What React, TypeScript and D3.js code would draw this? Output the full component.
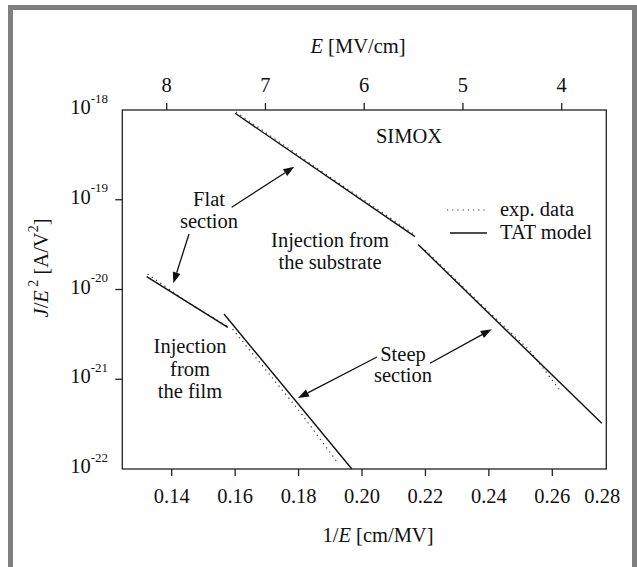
import React from "react";
import * as d3 from "d3";

// ---- data ----
const xTicks = [0.14, 0.16, 0.18, 0.2, 0.22, 0.24, 0.26, 0.28];
const eTicks = [8, 7, 6, 5, 4];
const yTickExps = [-18, -19, -20, -21, -22];

// TAT model (solid) segments: 1/E [cm/MV], J/E^2 [A/V^2]
const filmFlatModelX = [0.1321, 0.1577];
const filmFlatModelY = [1.39e-20, 3.79e-21];
const filmSteepModelX = [0.1565, 0.1968];
const filmSteepModelY = [5.33e-21, 1.0e-22];
const subFlatModelX = [0.16, 0.2167];
const subFlatModelY = [9.19e-19, 3.88e-20];
const subSteepModelX = [0.2177, 0.2756];
const subSteepModelY = [3.17e-20, 3.23e-22];

// exp. data (dotted)
const filmFlatExpX = [0.1324, 0.145, 0.1574];
const filmFlatExpY = [1.49e-20, 7.2e-21, 3.92e-21];
const filmSteepExpX = [0.1592, 0.17, 0.1805, 0.1925];
const filmSteepExpY = [3.61e-21, 1.23e-21, 4.31e-22, 1.15e-22];
const subFlatExpX = [0.1603, 0.1868, 0.2161];
const subFlatExpY = [9.5e-19, 2.12e-19, 4.21e-20];
const subSteepExpX = [0.2199, 0.2404, 0.253, 0.2628];
const subSteepExpY = [2.75e-20, 5.47e-21, 2.07e-21, 7.2e-22];

const modelSeries = [
  [filmFlatModelX, filmFlatModelY],
  [filmSteepModelX, filmSteepModelY],
  [subFlatModelX, subFlatModelY],
  [subSteepModelX, subSteepModelY],
];
const expSeries = [
  [filmFlatExpX, filmFlatExpY],
  [filmSteepExpX, filmSteepExpY],
  [subFlatExpX, subFlatExpY],
  [subSteepExpX, subSteepExpY],
];

const W = 637;
const H = 567;
const L = 122.3, R = 606.3, T = 110, B = 469;
const FONT = "'Liberation Serif', 'Times New Roman', Times, serif";

export default function App() {
  const x = d3.scaleLinear().domain([0.14, 0.26]).range([171.7, 552.3]);
  const xTop = d3.scaleLinear().domain([8, 4]).range([166.7, 561.7]);
  const y = d3.scaleLog().domain([1e-22, 1e-18]).range([B, T]);
  const line = d3
    .line<[number, number]>()
    .x((d) => x(d[0]))
    .y((d) => y(d[1]));
  const toPts = (xs: number[], ys: number[]) =>
    xs.map((v, i) => [v, ys[i]] as [number, number]);

  const arrow = (x1: number, y1: number, x2: number, y2: number, key: string) => {
    const a = Math.atan2(y2 - y1, x2 - x1);
    const len = 11, wid = 4;
    const bx = x2 - len * Math.cos(a), by = y2 - len * Math.sin(a);
    const p1 = [bx + wid * Math.sin(a), by - wid * Math.cos(a)];
    const p2 = [bx - wid * Math.sin(a), by + wid * Math.cos(a)];
    return (
      <g key={key}>
        <line x1={x1} y1={y1} x2={bx} y2={by} stroke="#111" strokeWidth={1.3} />
        <polygon points={`${x2},${y2} ${p1[0]},${p1[1]} ${p2[0]},${p2[1]}`} fill="#111" />
      </g>
    );
  };

  return (
    <svg
      width={W}
      height={H}
      style={{ position: "absolute", left: 0, top: 0, background: "#fff", fontFamily: FONT }}
    >
      {/* outer gray frame */}
      <rect x={8} y={5} width={629} height={5} fill="#7f7f7f" />
      <rect x={8} y={5} width={5} height={562} fill="#7f7f7f" />
      <rect x={632} y={5} width={5} height={562} fill="#7f7f7f" />

      {/* plot box */}
      <rect x={L} y={T} width={R - L} height={B - T} fill="none" stroke="#222" strokeWidth={1.3} />

      {/* bottom ticks */}
      {xTicks.map((t) => {
        const px = x(t);
        const inside = px <= R + 0.5;
        return (
          <g key={"xt" + t}>
            {inside && <line x1={px} x2={px} y1={B} y2={B + 7} stroke="#222" strokeWidth={1.3} />}
            <text x={Math.min(px, R - 4)} y={503} fontSize={20.5} textAnchor="middle" fill="#111">
              {t.toFixed(2)}
            </text>
          </g>
        );
      })}

      {/* top ticks */}
      {eTicks.map((t) => (
        <g key={"et" + t}>
          <line x1={xTop(t)} x2={xTop(t)} y1={T} y2={T - 7} stroke="#222" strokeWidth={1.3} />
          <text x={xTop(t)} y={92} fontSize={20.5} textAnchor="middle" fill="#111">
            {t}
          </text>
        </g>
      ))}

      {/* left ticks */}
      {yTickExps.map((e) => {
        const py = y(Math.pow(10, e));
        return (
          <g key={"yt" + e}>
            {e !== -18 && e !== -22 && (
              <line x1={L - 7} x2={L} y1={py} y2={py} stroke="#222" strokeWidth={1.3} />
            )}
            <text x={108} y={py + 4} fontSize={20.5} textAnchor="end" fill="#111">
              10
              <tspan dy={-11.5} fontSize={13}>
                {"-" + Math.abs(e)}
              </tspan>
            </text>
          </g>
        );
      })}

      {/* axis titles */}
      <text x={358} y={53} fontSize={20.5} textAnchor="middle" fill="#111">
        <tspan fontStyle="italic">E</tspan> [MV/cm]
      </text>
      <text x={378} y={542} fontSize={20.5} textAnchor="middle" fill="#111">
        1/<tspan fontStyle="italic">E</tspan> [cm/MV]
      </text>
      <text transform="translate(48,268) rotate(-90)" fontSize={20.5} textAnchor="middle" fill="#111">
        <tspan fontStyle="italic">J</tspan>/<tspan fontStyle="italic">E</tspan>
        <tspan dy={-10} fontSize={14}> 2</tspan>
        <tspan dy={10}> [A/V</tspan>
        <tspan dy={-10} fontSize={14}>2</tspan>
        <tspan dy={10}>]</tspan>
      </text>

      {/* data */}
      {expSeries.map(([xs, ys], i) => (
        <path
          key={"exp" + i}
          d={line(toPts(xs, ys)) || ""}
          fill="none"
          stroke="#333"
          strokeWidth={1.2}
          strokeDasharray="1.2,4"
        />
      ))}
      {modelSeries.map(([xs, ys], i) => (
        <path key={"mod" + i} d={line(toPts(xs, ys)) || ""} fill="none" stroke="#111" strokeWidth={1.4} />
      ))}

      {/* legend */}
      <line x1={447} x2={487} y1={210} y2={210} stroke="#333" strokeWidth={1.2} strokeDasharray="1.2,4" />
      <text x={500} y={216} fontSize={20.5} fill="#111">exp. data</text>
      <line x1={450} x2={487} y1={233} y2={233} stroke="#111" strokeWidth={1.4} />
      <text x={500} y={239} fontSize={20.5} fill="#111">TAT model</text>

      {/* annotations */}
      <text x={409} y={143} fontSize={20.5} textAnchor="middle" fill="#111">SIMOX</text>
      <text x={209} y={206} fontSize={20.5} textAnchor="middle" fill="#111">Flat</text>
      <text x={209} y={228} fontSize={20.5} textAnchor="middle" fill="#111">section</text>
      <text x={330} y={247} fontSize={20.5} textAnchor="middle" fill="#111">Injection from</text>
      <text x={330} y={269} fontSize={20.5} textAnchor="middle" fill="#111">the substrate</text>
      <text x={190} y={353} fontSize={20.5} textAnchor="middle" fill="#111">Injection</text>
      <text x={190} y={376} fontSize={20.5} textAnchor="middle" fill="#111">from</text>
      <text x={190} y={398} fontSize={20.5} textAnchor="middle" fill="#111">the film</text>
      <text x={403} y={361} fontSize={20.5} textAnchor="middle" fill="#111">Steep</text>
      <text x={403} y={382} fontSize={20.5} textAnchor="middle" fill="#111">section</text>

      {arrow(231.7, 207.3, 294.3, 166.7, "a1")}
      {arrow(189, 234, 173.3, 283.3, "a2")}
      {arrow(430, 363.3, 491.7, 329.3, "a3")}
      {arrow(377, 357, 298, 398, "a4")}
    </svg>
  );
}
